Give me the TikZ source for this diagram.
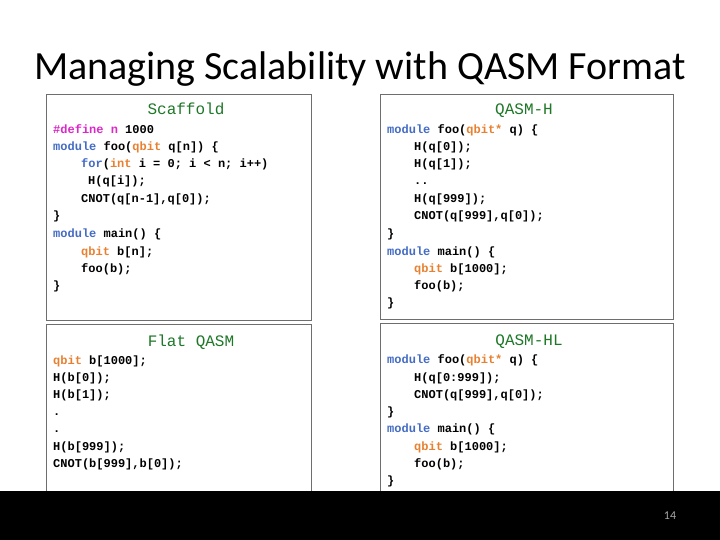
\documentclass[tikz,border=0pt]{standalone}
\usepackage{fontspec}
\setmainfont{Carlito}
\newfontfamily\codefont{Liberation Mono}
\definecolor{kw}{RGB}{68,108,196}
\definecolor{qb}{RGB}{232,128,48}
\definecolor{df}{RGB}{220,40,200}
\definecolor{hd}{RGB}{30,120,40}
\definecolor{bx}{RGB}{110,110,110}
\newcommand{\K}[1]{\textcolor{kw}{#1}}
\newcommand{\Q}[1]{\textcolor{qb}{#1}}
\begin{document}
\begin{tikzpicture}[x=1pt,y=-1pt,
  code/.style={anchor=base west,inner sep=0pt,font=\codefont\bfseries\fontsize{12}{14}\selectfont},
  head/.style={anchor=base,inner sep=0pt,text=hd,font=\codefont\fontsize{16}{18}\selectfont},
  panel/.style={draw=bx,line width=0.8pt}]
\useasboundingbox (0,0) rectangle (720,540);
\fill[white] (0,0) rectangle (720,540);
\node[anchor=base,inner sep=0pt,font=\fontsize{40}{44}\selectfont] (title) at (360,80) {Managing Scalability with QASM Format};
\draw[panel] (46,94) rectangle (311,320);
\draw[panel] (380,94) rectangle (673,319);
\draw[panel] (46,324) rectangle (311,492);
\draw[panel] (380,323) rectangle (673,492);
% Scaffold
\node[head] (h1) at (186,115) {Scaffold};
\node[code] (a1) at (53,134) {\textcolor{df}{\#define n} 1000};
\node[code] (a2) at (53,151) {\K{module} foo(\Q{qbit} q[n]) \{};
\node[code] (a3) at (81,168) {\K{for}(\Q{int} i = 0; i < n; i++)};
\node[code] (a4) at (88,185) {H(q[i]);};
\node[code] (a5) at (81,203) {CNOT(q[n-1],q[0]);};
\node[code] (a6) at (53,220) {\}};
\node[code] (a7) at (53,237) {\K{module} main() \{};
\node[code] (a8) at (81,255) {\Q{qbit} b[n];};
\node[code] (a9) at (81,272) {foo(b);};
\node[code] (a10) at (53,289) {\}};
% QASM-H
\node[head] (h2) at (524,115) {QASM-H};
\node[code] (b1) at (387,134) {\K{module} foo(\Q{qbit*} q) \{};
\node[code] (b2) at (414,151) {H(q[0]);};
\node[code] (b3) at (414,168) {H(q[1]);};
\node[code] (b4) at (414,185) {..};
\node[code] (b5) at (414,203) {H(q[999]);};
\node[code] (b6) at (414,220) {CNOT(q[999],q[0]);};
\node[code] (b7) at (387,237) {\}};
\node[code] (b8) at (387,255) {\K{module} main() \{};
\node[code] (b9) at (414,272) {\Q{qbit} b[1000];};
\node[code] (b10) at (414,289) {foo(b);};
\node[code] (b11) at (387,306) {\}};
% Flat QASM
\node[head] (h3) at (191,346) {Flat QASM};
\node[code] (c1) at (53,364) {\Q{qbit} b[1000];};
\node[code] (c2) at (53,381) {H(b[0]);};
\node[code] (c3) at (53,398) {H(b[1]);};
\node[code] (c4) at (53,415) {.};
\node[code] (c5) at (53,432) {.};
\node[code] (c6) at (53,450) {H(b[999]);};
\node[code] (c7) at (53,467) {CNOT(b[999],b[0]);};
% QASM-HL
\node[head] (h4) at (529,345) {QASM-HL};
\node[code] (d1) at (387,363) {\K{module} foo(\Q{qbit*} q) \{};
\node[code] (d2) at (414,381) {H(q[0:999]);};
\node[code] (d3) at (414,398) {CNOT(q[999],q[0]);};
\node[code] (d4) at (387,415) {\}};
\node[code] (d5) at (387,432) {\K{module} main() \{};
\node[code] (d6) at (414,450) {\Q{qbit} b[1000];};
\node[code] (d7) at (414,467) {foo(b);};
\node[code] (d8) at (387,484) {\}};
% bottom bar
\fill[black] (0,491) rectangle (720,540);
\node[anchor=base,inner sep=0pt,text=gray!70,font=\fontsize{12}{14}\selectfont] (pg) at (670,519) {14};
\end{tikzpicture}
\end{document}
